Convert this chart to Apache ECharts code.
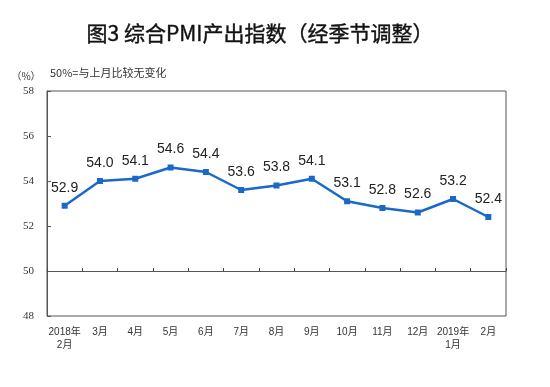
<!DOCTYPE html>
<html>
<head>
<meta charset="utf-8">
<script src="https://cdn.jsdelivr.net/npm/echarts@6/dist/echarts.min.js"></script>
<style>
html,body{margin:0;padding:0;background:#fff;}
#chart{width:550px;height:387px;}
</style>
</head>
<body>
<div id="chart"></div>
<script>
const titleText = '图3 综合PMI产出指数（经季节调整）';
const unitText = '（%）';
const noteText = '50%=与上月比较无变化';
const categories = ['2018年\n2月','3月','4月','5月','6月','7月','8月','9月','10月','11月','12月','2019年\n1月','2月'];
const pmiValues = [52.9, 54.0, 54.1, 54.6, 54.4, 53.6, 53.8, 54.1, 53.1, 52.8, 52.6, 53.2, 52.4];
const yMin = 48, yMax = 58, yStep = 2, baseline = 50;

const gridTop = 91, gridBottom = 71, gridLeft = 47, gridRight = 44;
const gridH = 387 - gridTop - gridBottom;
const baseOffset = -gridH * (baseline - yMin) / (yMax - yMin);

const chart = echarts.init(document.getElementById('chart'), null, {renderer:'canvas'});
chart.setOption({
  backgroundColor:'#fff',
  animation:false,
  graphic:[
    {type:'text', style:{text:titleText, x:260, y:33, textAlign:'center', textVerticalAlign:'middle', font:'21px "Noto Sans CJK SC"', fill:'#111', stroke:'#111', lineWidth:0.4}},
    {type:'text', style:{text:unitText, x:26, y:76, textAlign:'center', textVerticalAlign:'middle', font:'10px "Noto Sans CJK SC"', fill:'#333'}},
    {type:'text', style:{text:noteText, x:50, y:73, textAlign:'left', textVerticalAlign:'middle', font:'11px "Noto Sans CJK SC"', fill:'#333'}}
  ],
  grid:{left:gridLeft, right:gridRight, top:gridTop, bottom:gridBottom, show:true, borderColor:'#555', borderWidth:1},
  xAxis:[
    {type:'category', data:categories, boundaryGap:true, position:'bottom',
     axisLine:{show:false}, axisTick:{show:false},
     axisLabel:{interval:0, margin:10, fontSize:10, lineHeight:13, color:'#333', fontFamily:'"Liberation Sans","Noto Sans CJK SC"'}},
    {type:'category', data:categories, boundaryGap:true, position:'bottom', offset:baseOffset,
     axisLine:{show:true, onZero:false, lineStyle:{color:'#555', width:1}},
     axisTick:{show:true, inside:true, interval:0, length:3, lineStyle:{color:'#444'}},
     axisLabel:{show:false}}
  ],
  yAxis:{type:'value', min:yMin, max:yMax, interval:yStep,
    axisLine:{show:true, lineStyle:{color:'#555'}},
    axisTick:{show:true, inside:true, length:4, lineStyle:{color:'#555'}},
    splitLine:{show:false},
    axisLabel:{margin:13, fontSize:11, color:'#333', fontFamily:'"Liberation Serif"'}},
  series:[{
    type:'line', data:pmiValues, xAxisIndex:0,
    symbol:'rect', symbolSize:6,
    lineStyle:{color:'#1a68c8', width:2.5},
    itemStyle:{color:'#1a68c8'},
    label:{show:true, position:'top', distance:8, fontSize:14, color:'#222', fontFamily:'"Liberation Sans",Arial',
      formatter:p=>p.value.toFixed(1)}
  }]
});
</script>
</body>
</html>
